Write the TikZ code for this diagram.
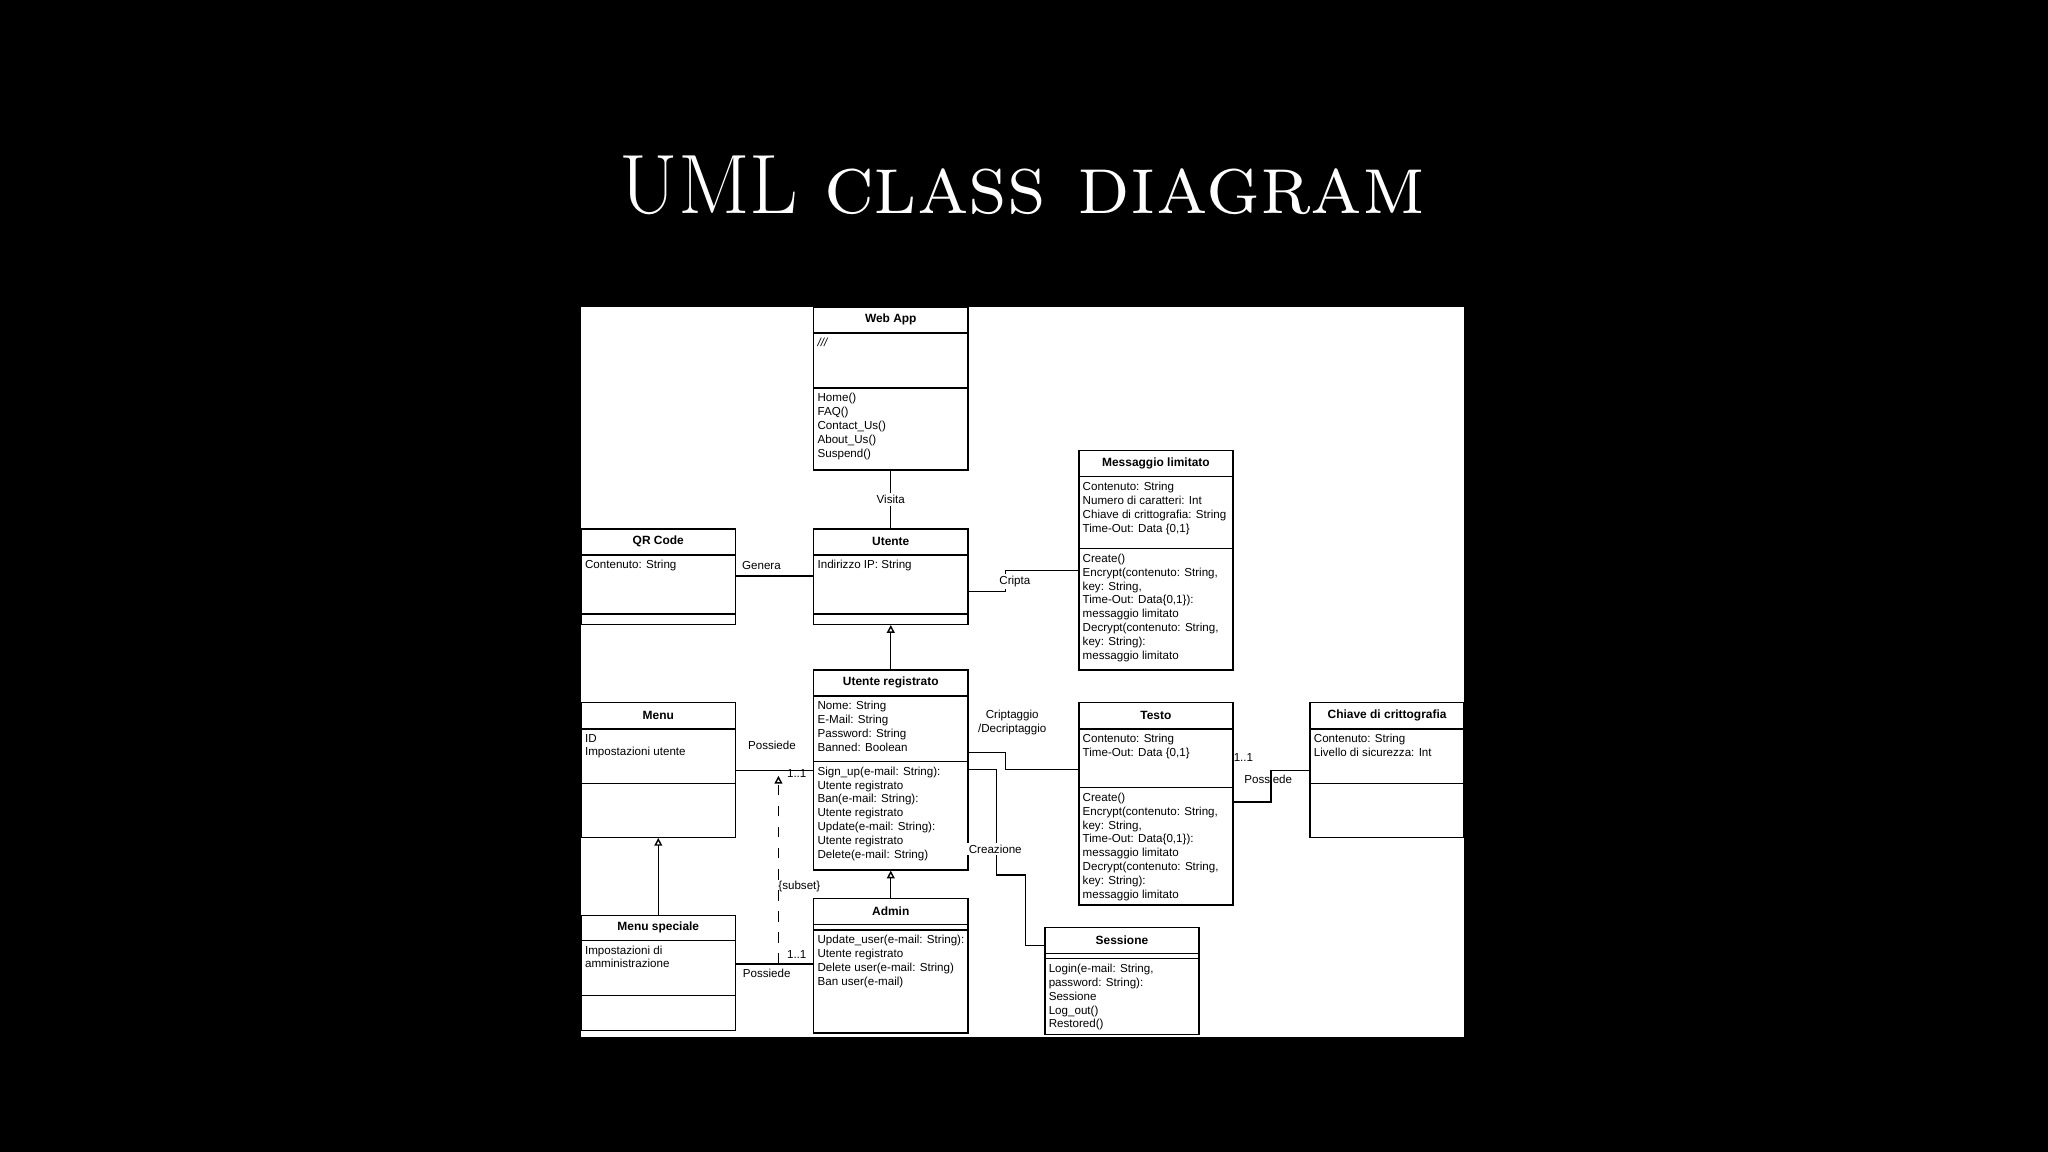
\documentclass[tikz,border=0pt]{standalone}
\usepackage{fontspec}
\newfontfamily\umlfont{Liberation Sans}
\usetikzlibrary{arrows.meta,fit,calc}

% one box of the class diagram: name, nw corner, se corner, 1st rule, 2nd rule, title, attributes, operations
\newcommand{\umlclass}[8]{%
    \node[box, fit={(#2)(#3)}] (#1) {};
    \draw[rule] (#1.west |- 0,#4) -- (#1.east |- 0,#4);
    \draw[rule] (#1.west |- 0,#5) -- (#1.east |- 0,#5);
    \node[ttl] at ($(#1.north)!0.5!(#1.north |- 0,#4)$) {#6};
    \node[txt] at (#1.west |- 0,#4) {#7};
    \node[txt] at (#1.west |- 0,#5) {#8};
}

\begin{document}
\begin{tikzpicture}[x=0.013061cm, y=-0.013061cm]
    \tikzstyle{box} = [draw, line width=0.4pt, inner sep=0pt, fill=white]
    \tikzstyle{rule} = [line width=0.4pt]
    \tikzstyle{ttl} = [font=\umlfont\fontsize{3.4}{4}\selectfont\bfseries, inner sep=0pt]
    \tikzstyle{txt} = [anchor=north west, align=left, font=\umlfont\fontsize{3.3}{3.95}\selectfont, inner xsep=1.1pt, inner ysep=1.3pt]
    \tikzstyle{lbl} = [font=\umlfont\fontsize{3.3}{3.95}\selectfont, inner sep=0.6pt, align=center]
    \tikzstyle{edge} = [draw, line width=0.4pt]
    \tikzstyle{gen} = [draw, line width=0.4pt, -{Triangle[open, length=2.2pt, width=2.2pt]}]

    \fill[black] (0,0) rectangle (1568,882);
    \fill[white] (445,235) rectangle (1121,794);
    \node[white, font=\fontsize{24}{28}\selectfont] (title) at (783,142) {UML \textsc{class diagram}};

    \umlclass{webapp}{623,235}{741,360}{255}{297}{Web App}{\textit{///}}{Home()\\FAQ()\\Contact\_Us()\\About\_Us()\\Suspend()}
    \umlclass{messaggio}{826,345}{944,513}{365}{420}{Messaggio limitato}{Contenuto: String\\Numero di caratteri: Int\\Chiave di crittografia: String\\Time-Out: Data \{0,1\}}{Create()\\Encrypt(contenuto: String,\\key: String,\\Time-Out: Data\{0,1\}):\\messaggio limitato\\Decrypt(contenuto: String,\\key: String):\\messaggio limitato}
    \umlclass{qrcode}{445,405}{563,478}{425}{470}{QR Code}{Contenuto: String}{}
    \umlclass{utente}{623,405}{741,478}{425}{470}{Utente}{Indirizzo IP: String}{}
    \umlclass{registrato}{623,513}{741,666}{533}{583}{Utente registrato}{Nome: String\\E-Mail: String\\Password: String\\Banned: Boolean}{Sign\_up(e-mail: String):\\Utente registrato\\Ban(e-mail: String):\\Utente registrato\\Update(e-mail: String):\\Utente registrato\\Delete(e-mail: String)}
    \umlclass{menu}{445,538}{563,641}{558}{600}{Menu}{ID\\Impostazioni utente}{}
    \umlclass{testo}{826,538}{944,693}{558}{603}{Testo}{Contenuto: String\\Time-Out: Data \{0,1\}}{Create()\\Encrypt(contenuto: String,\\key: String,\\Time-Out: Data\{0,1\}):\\messaggio limitato\\Decrypt(contenuto: String,\\key: String):\\messaggio limitato}
    \umlclass{chiave}{1003,538}{1121,641}{558}{600}{Chiave di crittografia}{Contenuto: String\\Livello di sicurezza: Int}{}
    \umlclass{menuspec}{445,701}{563,789}{720}{762}{Menu speciale}{Impostazioni di\\amministrazione}{}
    \umlclass{admin}{623,688}{741,791}{708}{712}{Admin}{}{Update\_user(e-mail: String):\\Utente registrato\\Delete user(e-mail: String)\\Ban user(e-mail)}
    \umlclass{sessione}{800,710}{918,792}{730}{734}{Sessione}{}{Login(e-mail: String,\\password: String):\\Sessione\\Log\_out()\\Restored()}

    \path[edge] (webapp.south) -- node[lbl, fill=white]{Visita} (utente.north);
    \path[edge] (qrcode.east |- 0,441) -- (utente.west |- 0,441);
    \node[lbl] (genera) at (583,433) {Genera};
    \path[edge] (utente.east |- 0,453) -- (770,453) -- (770,437) -- (messaggio.west |- 0,437);
    \node[lbl, fill=white] (cripta) at (777,445) {Cripta};
    \path[gen] (registrato.north) -- (utente.south);
    \path[gen] (menuspec.north) -- (menu.south);
    \path[gen] (admin.north) -- (registrato.south);

    \path[edge] (menu.east |- 0,590) -- (registrato.west |- 0,590);
    \node[lbl] (poss1) at (591,571) {Possiede};
    \node[lbl] (card1) at (610,592) {1..1};
    \coordinate (subfoot) at (596,738);
    \path[gen, dashed] (subfoot) -- (596,594);
    \node[lbl] (subset) at (612,679) {\{subset\}};
    \path[edge] (menuspec.east |- 0,738) -- (admin.west |- 0,738);
    \node[lbl] (poss2) at (587,745) {Possiede};
    \node[lbl] (card2) at (610,731) {1..1};

    \path[edge] (registrato.east |- 0,576) -- (770,576) -- (770,589) -- (testo.west |- 0,589);
    \node[lbl] (cripdec) at (775,553) {Criptaggio\\/Decriptaggio};
    \path[edge] (registrato.east |- 0,589) -- (763,589) -- (763,670) -- (785,670) -- (785,724) -- (sessione.west |- 0,724);
    \node[lbl, fill=white] (creazione) at (762,650) {Creazione};
    \path[edge] (testo.east |- 0,614) -- (973,614) -- (973,590) -- (chiave.west |- 0,590);
    \node[lbl] (poss3) at (971,597) {Possiede};
    \node[lbl] (card3) at (952,580) {1..1};
\end{tikzpicture}
\end{document}
